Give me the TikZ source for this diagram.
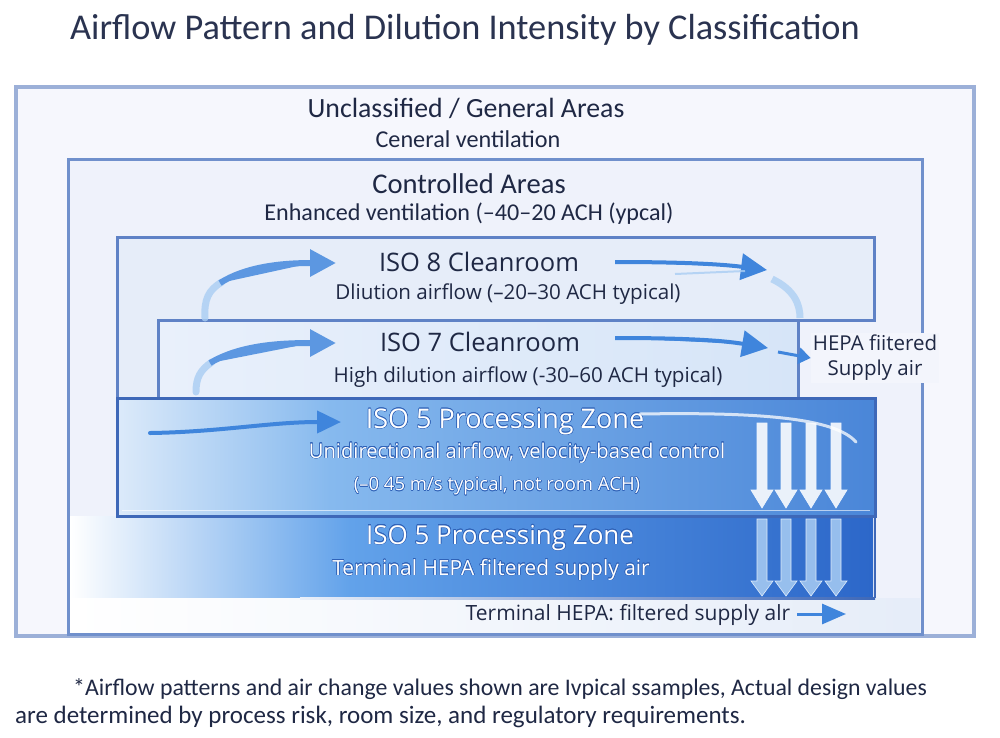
\documentclass[tikz,border=0pt]{standalone}
\usepackage{fontspec}
\setmainfont{Carlito}
\newfontfamily\isofont{Open Sans}
\usepackage[copies]{contour}
\contourlength{0.5pt}
\contournumber{16}
\usetikzlibrary{arrows.meta}
\definecolor{titlec}{HTML}{2A3350}
\definecolor{txtc}{HTML}{1F2844}
\definecolor{outerb}{HTML}{9CB0D8}
\definecolor{outerf}{HTML}{F6F7FD}
\definecolor{ctrlb}{HTML}{7090CC}
\definecolor{ctrlf}{HTML}{EFF2FB}
\definecolor{isob}{HTML}{5F82C6}
\definecolor{iso8f}{HTML}{E6EDF9}
\definecolor{iso7l}{HTML}{E9F0FB}
\definecolor{iso7r}{HTML}{D6E5F8}
\definecolor{fiveb}{HTML}{3E68B8}
\definecolor{fiveA}{HTML}{DCEAFA}
\definecolor{fiveB}{HTML}{86B9EE}
\definecolor{fiveC}{HTML}{4A86D8}
\definecolor{lowB}{HTML}{62A2EA}
\definecolor{lowC}{HTML}{2C67C9}
\definecolor{arrc}{HTML}{3F85DC}
\definecolor{arrlight}{HTML}{A9CDF3}
\definecolor{haloc}{HTML}{2F62B8}
\begin{document}
\begin{tikzpicture}[x=1pt,y=-1pt,
  lbl/.style={text=txtc, inner sep=0pt},
  isolbl/.style={text=txtc, inner sep=0pt, font=\isofont\fontsize{25.5}{30}\selectfont},
  isosub/.style={text=txtc, inner sep=0pt, font=\isofont\fontsize{20.6}{24}\selectfont},
  whitelbl/.style={text=white, inner sep=0pt},
  flowarrow/.style={draw=arrc, line width=6pt, -{Triangle[length=26pt,width=26pt]}},
  downA/.style={fill=white, fill opacity=0.88, draw=white!80!arrlight, line width=0.6pt},
  downB/.style={fill=arrlight, fill opacity=0.85, draw=white!60!arrlight, line width=0.6pt}
]
\useasboundingbox (0,0) rectangle (1000,737);
\fill[white] (0,0) rectangle (1000,737);

% title
\node[text=titlec, inner sep=0pt, anchor=west, font=\fontsize{36.3}{40}\selectfont] (title) at (70,30) {Airflow Pattern and Dilution Intensity by Classification};

% outer box
\draw[draw=outerb, line width=3.5pt, fill=outerf] (16,87) rectangle (974,636);
% controlled box
\draw[draw=ctrlb, line width=3pt, fill=ctrlf] (68,159) rectangle (922,634);

% lower ISO 5 section
\shade[left color=white, right color=lowB] (70,516) rectangle (350,598);
\shade[left color=lowB, right color=lowC] (350,516) rectangle (873,598);
\shade[left color=white, right color=lowC!12!white] (70,598) rectangle (920,632);
\shade[left color=lowC!10!white, right color=fiveb] (300,597) rectangle (875,599);
\draw[draw=fiveb, line width=2.5pt] (875,516) -- (875,598);

% ISO 8 region
\fill[iso8f] (117,237) rectangle (874,320);
\fill[iso8f] (117,320) rectangle (158,398);
\draw[draw=isob, line width=3pt] (117,516) -- (117,237) -- (874,237) -- (874,320) -- (158,320);
% ISO 7 box
\shade[left color=iso7l, right color=iso7r] (158,320) rectangle (798,398);
\draw[draw=isob, line width=3pt] (158,320) rectangle (798,398);
\draw[draw=isob, line width=3pt] (798,320) -- (798,400);

% upper ISO 5 box
\shade[left color=fiveA, right color=fiveB] (117,398) rectangle (330,516);
\shade[left color=fiveB, right color=fiveC] (330,398) rectangle (875,516);
\draw[draw=fiveb, line width=3pt] (117,398) rectangle (875,516);
\draw[draw=white, opacity=0.6, line width=1pt] (122,510) -- (870,510);

% labels
\node[lbl, font=\fontsize{27.8}{32}\selectfont] (unc) at (466,108) {Unclassified / General Areas};
\node[lbl, font=\fontsize{24.2}{28}\selectfont] (uncsub) at (468,139) {Ceneral ventilation};
\node[lbl, font=\fontsize{28.6}{32}\selectfont] (ctrl) at (469,184) {Controlled Areas};
\node[lbl, font=\fontsize{24.1}{28}\selectfont] (ctrlsub) at (469,214) {Enhanced ventilation (–40–20 ACH (ypcal)};

\node[isolbl] (iso8) at (479,262) {ISO 8 Cleanroom};
\node[isosub] (iso8sub) at (508,294) {Dliution airflow (–20–30 ACH typical)};
\node[isolbl] (iso7) at (480,342) {ISO 7 Cleanroom};
\node[isosub] (iso7sub) at (528,377) {High dilution airflow (-30–60 ACH typical)};

\node[whitelbl, font=\isofont\fontsize{27}{31}\selectfont] (iso5a) at (505,422) {\contour{haloc}{ISO 5 Processing Zone}};
\node[whitelbl, font=\isofont\fontsize{20.2}{24}\selectfont] (iso5asub) at (517,453) {\contour{haloc}{Unidirectional airflow, velocity-based control}};
\node[whitelbl, font=\isofont\fontsize{18.5}{22}\selectfont] (iso5asub2) at (497,486) {\contour{haloc}{(–0 45 m/s typical, not room ACH)}};
\node[whitelbl, font=\isofont\fontsize{26}{30}\selectfont] (iso5b) at (500,538) {\contour{haloc}{ISO 5 Processing Zone}};
\node[whitelbl, font=\isofont\fontsize{20.9}{24}\selectfont] (iso5bsub) at (491,570) {\contour{haloc}{Terminal HEPA filtered supply air}};

\node[lbl, font=\isofont\fontsize{21}{24}\selectfont] (term) at (628,615) {Terminal HEPA: filtered supply alr};
\node[lbl, font=\isofont\fontsize{20.5}{24}\selectfont, align=center, fill=outerf!60!ctrlf, inner sep=2pt] (hepa) at (875,358) {HEPA fiitered\\[1pt]Supply air};

% footnote
\node[lbl, anchor=west, font=\fontsize{23.8}{28}\selectfont] (foot1) at (73,689) {*Airflow patterns and air change values shown are Ivpical ssamples, Actual design values};
\node[lbl, anchor=west, font=\fontsize{25}{28}\selectfont] (foot2) at (15,717) {are determined by process risk, room size, and regulatory requirements.};

% arrow coordinates
\coordinate (a8s) at (205,318);
\coordinate (a8e) at (336,263);
\coordinate (a7s) at (196,392);
\coordinate (a7e) at (336,343);
\coordinate (r8s) at (615,262);
\coordinate (r8e) at (767,270);
\coordinate (r7s) at (615,338);
\coordinate (r7e) at (768,348);
\coordinate (hs) at (778,352);
\coordinate (l5s) at (150,433);
\coordinate (l5e) at (341,422);
\coordinate (ts) at (797,614);
\coordinate (te) at (846,614);

% curved flow arrows
\draw[draw=arrlight, line width=7pt, line cap=round, opacity=0.8] (a8s) .. controls (204,300) and (208,290) .. (222,282);
\draw[flowarrow, draw=arrc!85!white, fill=arrc!85!white] (220,283) .. controls (245,267) and (280,263) .. (a8e);
\draw[draw=arrlight, line width=7pt, line cap=round, opacity=0.8] (a7s) .. controls (196,378) and (200,370) .. (212,362);
\draw[flowarrow, draw=arrc!85!white, fill=arrc!85!white] (210,363) .. controls (240,345) and (280,343) .. (a7e);

% straight flow arrows
\draw[flowarrow, line width=4pt, fill=arrc] (r8s) .. controls (680,262) and (720,264) .. (r8e);
\draw[draw=arrlight, line width=2pt, opacity=0.8] (675,274) -- (745,271);
\draw[draw=arrlight, line width=7pt, opacity=0.75] (772,279) .. controls (795,290) and (800,305) .. (800,318);
\draw[flowarrow, line width=4pt, fill=arrc] (r7s) .. controls (680,338) and (720,340) .. (r7e);
\draw[draw=arrc, fill=arrc, line width=3pt, -{Triangle[length=12pt,width=16pt]}] (hs) -- (hepa.west);

% ISO 5 left arrow
\draw[draw=arrc, fill=arrc, line width=4pt, -{Triangle[length=24pt,width=22pt]}, line cap=round] (l5s) .. controls (220,432) and (270,422) .. (l5e);
% swoosh
\draw[draw=white, opacity=0.75, line width=3pt, line cap=round] (640,414) .. controls (760,412) and (835,418) .. (856,442);

% down arrows
\foreach \x in {762,786,811,836} {
  \draw[downA] (\x-5,423) -- (\x+5,423) -- (\x+5,490) -- (\x+11,490) -- (\x,508) -- (\x-11,490) -- (\x-5,490) -- cycle;
  \draw[downB] (\x-5,519) -- (\x+5,519) -- (\x+5,581) -- (\x+11,581) -- (\x,596) -- (\x-11,581) -- (\x-5,581) -- cycle;
}

% terminal arrow
\draw[draw=arrc, fill=arrc, line width=3pt, -{Triangle[length=24pt,width=20pt]}] (ts) -- (te);
\end{tikzpicture}
\end{document}
